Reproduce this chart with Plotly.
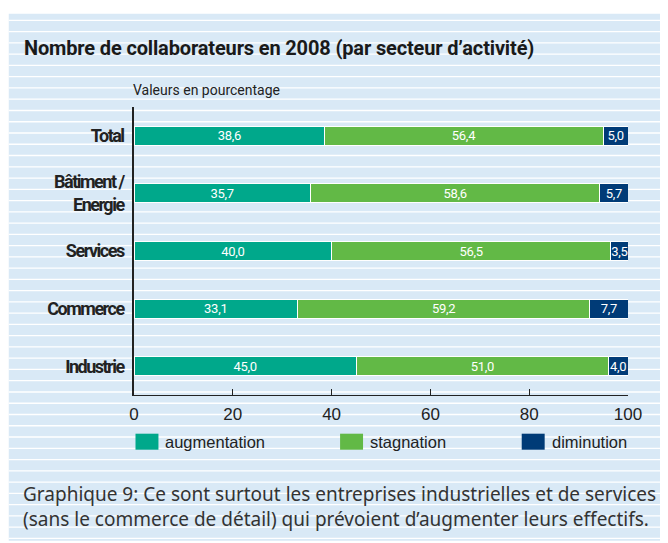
import plotly.graph_objects as go

categories = ["Total", "Bâtiment /<br>Energie", "Services", "Commerce", "Industrie"]
augmentation = [38.6, 35.7, 40.0, 33.1, 45.0]
stagnation = [56.4, 58.6, 56.5, 59.2, 51.0]
diminution = [5.0, 5.7, 3.5, 7.7, 4.0]
series_names = ["augmentation", "stagnation", "diminution"]
x_ticks = [0, 20, 40, 60, 80, 100]

colors = ["#00A88B", "#62B946", "#003B77"]
OFF = 8  # page body margin
W, H = 660, 535
L, R, T, B = 125.5, 39.5, 99.3, 147.7
PW, PH = W - L - R, H - T - B

def px(x):  # page pixel -> paper
    return (x - OFF - L) / PW

def py(y):
    return (H - B - (y - OFF)) / PH

ROB = "Roboto, sans-serif"
NOTO = "Noto Sans, sans-serif"
REG = "Liberation Sans, Arial, sans-serif"

def tight(t, ls, bold=False):
    parts = t.split("<br>")
    if bold:
        parts = [f"<b>{p}</b>" for p in parts]
    return "<br>".join(f'<span style="letter-spacing:{ls}px">' + p + "</span>" for p in parts)

def fmt(v):
    return f"{v:.1f}".replace(".", ",")

fig = go.Figure()
for name, vals, col in zip(series_names, [augmentation, stagnation, diminution], colors):
    fig.add_trace(go.Bar(
        y=categories, x=vals, orientation="h", name=name,
        marker=dict(color=col, line=dict(color="white", width=1)),
        text=[tight(fmt(v), -0.3) for v in vals], textposition="inside", textangle=0,
        insidetextanchor="middle", constraintext="none",
        textfont=dict(color="white", size=13, family=ROB),
        showlegend=False, hoverinfo="skip",
    ))

shapes = []
shapes.append(dict(type="rect", xref="paper", yref="paper", x0=px(8), x1=px(680), y0=py(14), y1=py(541),
                   fillcolor="#D9E9F6", line=dict(width=0), layer="below"))
k = 0
while True:
    yy = 20.7 + k * 11.26
    if yy > 540:
        break
    shapes.append(dict(type="line", xref="paper", yref="paper", x0=px(8), x1=px(680), y0=py(yy), y1=py(yy),
                       line=dict(color="white", width=1.3), layer="below"))
    k += 1

annotations = []
leg_x = [135, 340, 522]
for lx, name, col in zip(leg_x, series_names, colors):
    shapes.append(dict(type="rect", xref="paper", yref="paper", x0=px(lx), x1=px(lx + 23), y0=py(434), y1=py(450),
                       fillcolor=col, line=dict(width=0)))
    annotations.append(dict(xref="paper", yref="paper", x=px(lx + 28), y=py(442), text=name, showarrow=False,
                            xanchor="left", yanchor="middle", font=dict(family=REG, size=16.5, color="#222")))

annotations.append(dict(xref="paper", yref="paper", x=px(21), y=py(48),
                        text=tight("Nombre de collaborateurs en 2008 (par secteur d’activité)", -0.15, bold=True),
                        showarrow=False, xanchor="left", yanchor="middle",
                        font=dict(family=ROB, size=20, color="#1a1a1a")))
annotations.append(dict(xref="paper", yref="paper", x=px(130), y=py(90),
                        text="Valeurs en pourcentage", showarrow=False, xanchor="left", yanchor="middle",
                        font=dict(family=ROB, size=14, color="#222")))
annotations.append(dict(xref="paper", yref="paper", x=px(20), y=py(507),
                        text="Graphique 9: Ce sont surtout les entreprises industrielles et de services<br>(sans le commerce de détail) qui prévoient d’augmenter leurs effectifs.",
                        showarrow=False, xanchor="left", yanchor="middle", align="left",
                        font=dict(family=NOTO, size=19, color="#333")))

fig.update_layout(
    width=W, height=H, autosize=False,
    margin=dict(l=L, r=R, t=T, b=B, pad=0),
    paper_bgcolor="white", plot_bgcolor="rgba(0,0,0,0)",
    barmode="stack", bargap=0.67,
    uniformtext=dict(minsize=13, mode="show"),
    shapes=shapes, annotations=annotations,
    xaxis=dict(range=[0, 100], tickvals=x_ticks, ticks="inside", ticklen=6, tickcolor="#222",
               showline=True, linecolor="#222", linewidth=1.2, showgrid=False, zeroline=False,
               ticklabelstandoff=3,
               tickfont=dict(family=REG, size=17, color="#222"), fixedrange=True),
    yaxis=dict(autorange="reversed", showline=True, linecolor="#222", linewidth=1.5, showgrid=False,
               ticks="", ticklabelstandoff=5, tickfont=dict(family=ROB, size=18, color="#222"),
               tickvals=categories, ticktext=[tight(c, -1.5, bold=True) for c in categories],
               fixedrange=True),
)

fig.write_html("out.html")
